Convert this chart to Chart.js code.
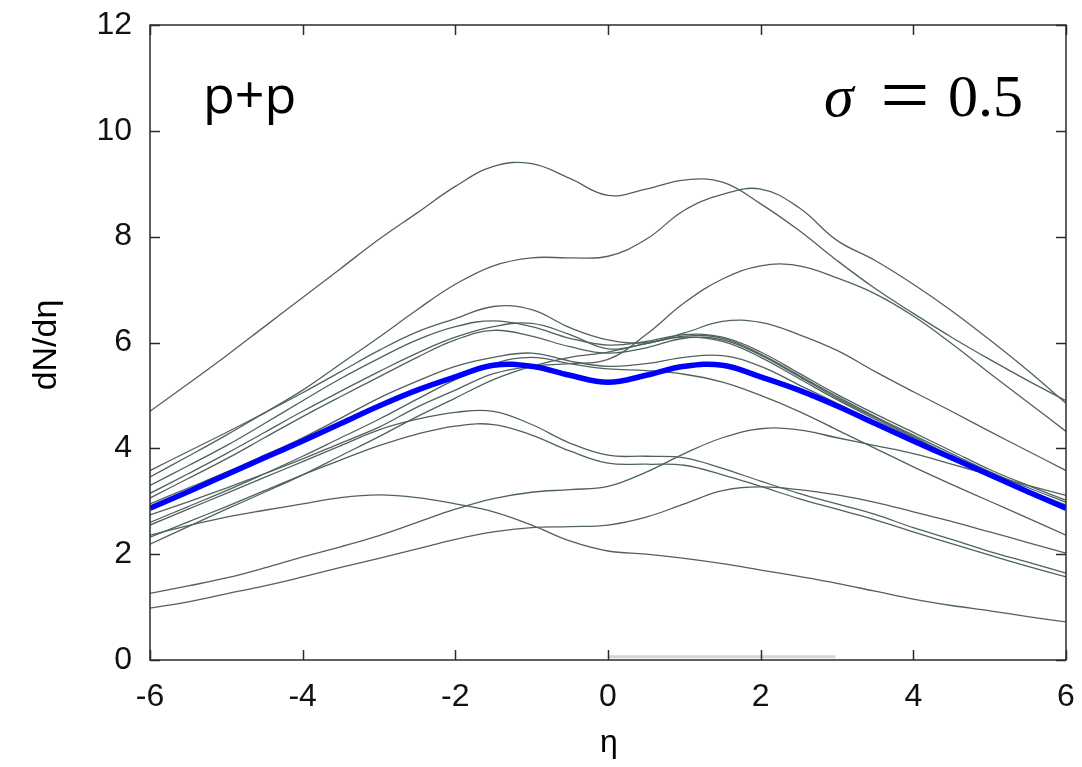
<!DOCTYPE html>
<html>
<head>
<meta charset="utf-8">
<script src="https://cdn.jsdelivr.net/npm/chart.js@4.4.1/dist/chart.umd.min.js"></script>
<style>
  html, body { margin: 0; padding: 0; background: #fff; }
  #wrap { width: 1082px; height: 767px; }
</style>
</head>
<body>
<div id="wrap"><canvas id="rapidityChart" width="1082" height="767"></canvas></div>
<script>
// pseudorapidity grid the curves are sampled on (step 0.5)
const eta = [-6, -5.5, -5, -4.5, -4, -3.5, -3, -2.5, -2, -1.5, -1, -0.5, 0,
             0.5, 1, 1.5, 2, 2.5, 3, 3.5, 4, 4.5, 5, 5.5, 6];

// event-averaged dN/deta (thick blue)
const meanCurve = [2.87, 3.18, 3.5, 3.82, 4.14, 4.47, 4.8, 5.1, 5.35, 5.57, 5.55, 5.38, 5.25,
                   5.38, 5.55, 5.57, 5.35, 5.1, 4.8, 4.47, 4.14, 3.82, 3.5, 3.18, 2.87];

// single events (thin grey)
const ev01 = [4.7, 5.22, 5.75, 6.3, 6.85, 7.4, 7.95, 8.45, 8.95, 9.33, 9.38, 9.1, 8.78,
              8.9, 9.07, 9.03, 8.62, 8.12, 7.55, 7.02, 6.55, 6.1, 5.68, 5.28, 4.9];
const ev02 = [3.46, 3.85, 4.25, 4.67, 5.1, 5.6, 6.1, 6.62, 7.1, 7.45, 7.6, 7.6, 7.63,
              7.95, 8.5, 8.8, 8.9, 8.55, 7.93, 7.55, 7.1, 6.6, 6.05, 5.47, 4.85];
const ev03 = [2.74, 2.99, 3.25, 3.52, 3.8, 4.1, 4.4, 4.78, 5.1, 5.41, 5.55, 5.6, 5.68,
              6.15, 6.75, 7.2, 7.45, 7.45, 7.22, 6.92, 6.5, 5.98, 5.42, 4.87, 4.32];
const ev04 = [3.58, 3.94, 4.3, 4.67, 5.05, 5.45, 5.85, 6.2, 6.45, 6.68, 6.62, 6.28, 6.05,
              6.0, 6.18, 6.4, 6.38, 6.15, 5.85, 5.45, 5.07, 4.7, 4.32, 3.95, 3.58];
const ev05 = [3.3, 3.67, 4.05, 4.47, 4.9, 5.32, 5.7, 6.05, 6.3, 6.41, 6.3, 6.08, 5.95,
              6.02, 6.15, 6.1, 5.82, 5.42, 5.02, 4.65, 4.3, 3.95, 3.6, 3.3, 3.02];
const ev06 = [3.15, 3.52, 3.9, 4.3, 4.7, 5.08, 5.45, 5.8, 6.1, 6.3, 6.36, 6.15, 5.88,
              5.98, 6.12, 6.08, 5.78, 5.38, 4.98, 4.6, 4.25, 3.9, 3.56, 3.26, 2.98];
const ev07 = [3.06, 3.43, 3.8, 4.2, 4.6, 4.98, 5.35, 5.72, 6.05, 6.23, 6.12, 5.92, 5.8,
              5.9, 6.08, 6.05, 5.76, 5.36, 4.95, 4.58, 4.22, 3.86, 3.52, 3.21, 2.93];
const ev08 = [2.95, 3.25, 3.55, 3.87, 4.2, 4.57, 4.95, 5.27, 5.55, 5.72, 5.8, 5.65, 5.55,
              5.6, 5.72, 5.75, 5.55, 5.2, 4.85, 4.48, 4.12, 3.8, 3.5, 3.18, 2.88];
const ev09 = [2.6, 2.9, 3.2, 3.52, 3.85, 4.2, 4.55, 4.93, 5.3, 5.6, 5.72, 5.6, 5.5,
              5.47, 5.4, 5.25, 5.0, 4.7, 4.35, 4.0, 3.65, 3.32, 3.0, 2.68, 2.36];
const ev10 = [2.19, 2.52, 2.85, 3.17, 3.5, 3.86, 4.22, 4.6, 4.95, 5.3, 5.55, 5.72, 5.82,
              5.98, 6.1, 6.02, 5.72, 5.32, 4.92, 4.55, 4.2, 3.85, 3.5, 3.2, 2.9];
const ev11 = [2.55, 2.85, 3.15, 3.45, 3.75, 4.05, 4.35, 4.55, 4.68, 4.7, 4.45, 4.1, 3.87,
              3.85, 3.82, 3.62, 3.38, 3.15, 2.95, 2.75, 2.5, 2.28, 2.05, 1.85, 1.64];
const ev12 = [2.32, 2.61, 2.9, 3.2, 3.5, 3.78, 4.05, 4.27, 4.42, 4.45, 4.25, 3.95, 3.72,
              3.7, 3.68, 3.5, 3.28, 3.05, 2.85, 2.65, 2.42, 2.2, 1.98, 1.77, 1.57];
const ev13 = [2.36, 2.54, 2.7, 2.83, 2.95, 3.07, 3.12, 3.07, 2.95, 2.8, 2.55, 2.25, 2.06,
              2.0, 1.92, 1.82, 1.7, 1.58, 1.45, 1.3, 1.15, 1.03, 0.93, 0.82, 0.72];
const ev14 = [1.26, 1.4, 1.55, 1.74, 1.95, 2.14, 2.35, 2.6, 2.85, 3.05, 3.17, 3.22, 3.28,
              3.55, 3.9, 4.2, 4.37, 4.35, 4.2, 4.05, 3.9, 3.7, 3.5, 3.3, 3.11];
const ev15 = [0.98, 1.1, 1.25, 1.4, 1.57, 1.75, 1.92, 2.1, 2.28, 2.42, 2.5, 2.52, 2.55,
              2.7, 2.95, 3.2, 3.27, 3.22, 3.12, 2.98, 2.8, 2.62, 2.42, 2.22, 2.02];
const events = [ev01, ev02, ev03, ev04, ev05, ev06, ev07, ev08, ev09, ev10, ev11, ev12, ev13, ev14, ev15];

// faint grey stroke lying on the bottom axis
const strayX = [0, 2.98];
const strayY = [0.06, 0.06];

const xTicks = [-6, -4, -2, 0, 2, 4, 6];
const yTicks = [0, 2, 4, 6, 8, 10, 12];

function toPoints(xs, ys) {
    return xs.map((x, i) => ({ x: x, y: ys[i] }));
}

const datasets = [{
    data: toPoints(eta, meanCurve),
    borderColor: "#0000ff",
    borderWidth: 5.5,
    tension: 0.4
}];
events.forEach(ev => {
    datasets.push({
        data: toPoints(eta, ev),
        borderColor: "#4f625f",
        borderWidth: 1.3,
        tension: 0.4
    });
});
datasets.push({
    data: toPoints(strayX, strayY),
    borderColor: "#d4d4d4",
    borderWidth: 3,
    tension: 0
});

// frame, inward ticks and the free text
const decor = {
    id: "decor",
    afterDraw(chart) {
        const { ctx, chartArea: a, scales } = chart;
        ctx.save();
        ctx.strokeStyle = "#2b2b2b";
        ctx.lineWidth = 1.5;
        ctx.strokeRect(a.left, a.top, a.right - a.left, a.bottom - a.top);
        ctx.beginPath();
        xTicks.forEach(v => {
            const px = Math.round(scales.x.getPixelForValue(v)) + 0.5;
            ctx.moveTo(px, a.bottom); ctx.lineTo(px, a.bottom - 10);
            ctx.moveTo(px, a.top); ctx.lineTo(px, a.top + 10);
        });
        yTicks.forEach(v => {
            const py = Math.round(scales.y.getPixelForValue(v)) + 0.5;
            ctx.moveTo(a.left, py); ctx.lineTo(a.left + 10, py);
            ctx.moveTo(a.right, py); ctx.lineTo(a.right - 10, py);
        });
        ctx.stroke();

        ctx.fillStyle = "#000";
        ctx.textBaseline = "alphabetic";
        ctx.textAlign = "left";
        ctx.font = "52px 'Open Sans', 'Noto Sans', sans-serif";
        ctx.fillText("p+p", 203, 113);

        ctx.font = "italic 60px 'Liberation Serif', serif";
        ctx.fillText("σ", 824, 116);
        ctx.font = "60px 'Liberation Serif', serif";
        ctx.fillText("0.5", 948, 116);
        ctx.save();
        ctx.translate(905, 121);
        ctx.scale(1.12, 1);
        ctx.font = "78px 'Liberation Serif', serif";
        ctx.textAlign = "center";
        ctx.fillText("=", 0, 0);
        ctx.restore();

        ctx.textAlign = "center";
        ctx.font = "32px 'Liberation Sans', Arial, sans-serif";
        ctx.fillText("η", 609, 752);
        ctx.translate(47, 345);
        ctx.rotate(-Math.PI / 2);
        ctx.textBaseline = "middle";
        ctx.font = "34px 'Liberation Sans', Arial, sans-serif";
        ctx.fillText("dN/dη", 0, 0);
        ctx.restore();
    }
};

const tickFont = { family: "'Liberation Sans', Arial, sans-serif", size: 32 };

new Chart(document.getElementById("rapidityChart"), {
    type: "scatter",
    data: { datasets: datasets },
    options: {
        responsive: false,
        animation: false,
        showLine: true,
        layout: { padding: { left: 0, right: 16, top: 25, bottom: 0 } },
        elements: { point: { radius: 0, hoverRadius: 0 } },
        plugins: { legend: { display: false }, tooltip: { enabled: false } },
        scales: {
            x: {
                type: "linear",
                min: -6,
                max: 6,
                afterFit(scale) { scale.height = 107; },
                afterBuildTicks(scale) { scale.ticks = xTicks.map(v => ({ value: v })); },
                grid: { display: false, drawTicks: true, tickLength: 18 },
                border: { display: false },
                ticks: { color: "#111", font: tickFont, padding: 0, maxRotation: 0 }
            },
            y: {
                type: "linear",
                min: 0,
                max: 12,
                afterFit(scale) { scale.width = 150; },
                afterBuildTicks(scale) { scale.ticks = yTicks.map(v => ({ value: v })); },
                grid: { display: false, drawTicks: true, tickLength: 18 },
                border: { display: false },
                ticks: { color: "#111", font: tickFont, padding: 0 }
            }
        }
    },
    plugins: [decor]
});
</script>
</body>
</html>
